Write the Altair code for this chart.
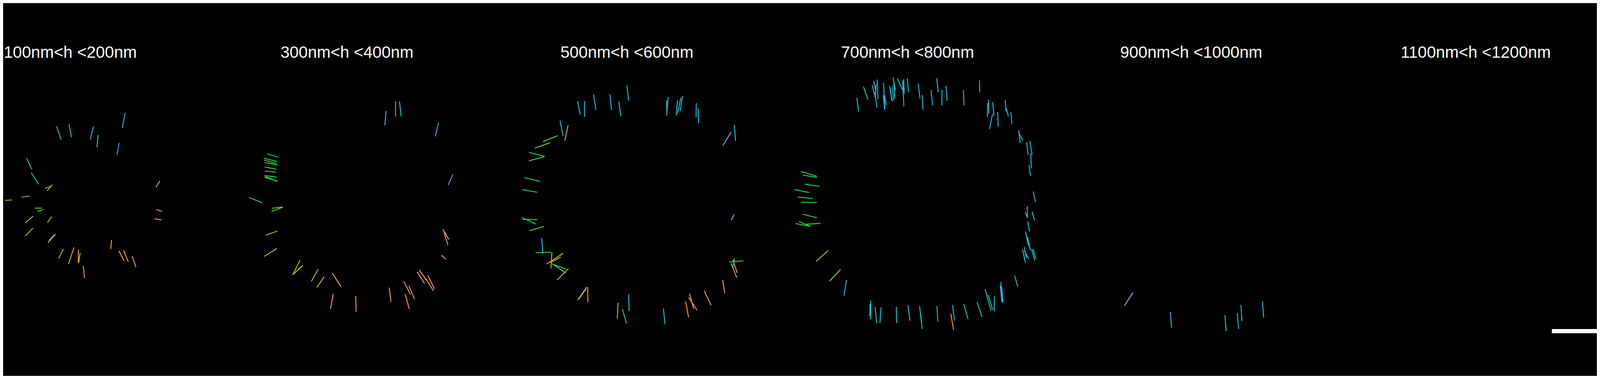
import altair as alt
import pandas as pd

# Panel titles and where each title starts (reference pixels)
TITLES = ["100nm<h <200nm", "300nm<h <400nm", "500nm<h <600nm",
          "700nm<h <800nm", "900nm<h <1000nm", "1100nm<h <1200nm"]
TITLE_X = [10, 938, 1877, 2818, 3754, 4695]

# Segments per panel: (colour class, x1, y1, x2, y2) in each panel's frame units
P1 = [
    ("tl", 326, 442, 352, 513), ("tl", 399, 430, 413, 501), ("bl", 542, 441, 523, 513),
    ("cy", 569, 488, 562, 555), ("bl", 727, 368, 710, 451), ("bl", 692, 531, 679, 597),
    ("tl", 151, 614, 181, 674), ("tl", 178, 693, 221, 756), ("gr", 258, 777, 295, 767),
    ("yg", 271, 791, 301, 758), ("lg", 24, 843, 67, 841), ("lg", 122, 826, 169, 820),
    ("lg", 199, 885, 240, 885), ("lg", 216, 903, 249, 893), ("yg", 143, 965, 189, 928),
    ("yg", 273, 963, 298, 931), ("yg", 144, 1036, 188, 993), ("yg", 276, 1072, 320, 1026),
    ("yg", 282, 1062, 312, 1030), ("ye", 338, 1158, 366, 1106), ("ye", 396, 1187, 428, 1098),
    ("or", 453, 1180, 454, 1110), ("or", 455, 1183, 464, 1128), ("or", 489, 1263, 482, 1198),
    ("or", 643, 1107, 647, 1057), ("sa", 690, 1117, 721, 1171), ("sa", 718, 1114, 745, 1176),
    ("sa", 768, 1146, 790, 1205), ("lb", 906, 772, 930, 738), ("pk", 908, 893, 943, 902),
    ("pk", 900, 943, 938, 949),
]
P2 = [
    ("bl", 858, 358, 850, 436), ("cy", 913, 307, 913, 388), ("cy", 936, 307, 946, 388),
    ("bl", 1164, 421, 1145, 497), ("bl", 1248, 702, 1220, 760),
    ("gr", 162, 591, 228, 609), ("gr", 143, 615, 220, 632), ("gr", 147, 625, 216, 643),
    ("gr", 150, 638, 224, 651), ("gr", 148, 662, 216, 674), ("gr", 150, 684, 214, 690),
    ("gr", 146, 708, 218, 717), ("gr", 146, 718, 222, 738), ("gr", 150, 712, 224, 741),
    ("gr", 57, 827, 133, 856), ("lg", 190, 886, 254, 879), ("lg", 188, 903, 254, 880),
    ("lg", 154, 1032, 223, 1009), ("yg", 145, 1147, 219, 1104), ("yg", 312, 1247, 355, 1167),
    ("yg", 313, 1245, 371, 1197), ("yg", 320, 1240, 365, 1200), ("ye", 421, 1282, 461, 1216),
    ("ye", 454, 1315, 496, 1256), ("sa", 543, 1237, 594, 1311), ("or", 533, 1431, 549, 1350),
    ("or", 680, 1361, 683, 1447), ("or", 876, 1316, 886, 1393), ("or", 969, 1350, 993, 1432),
    ("sa", 961, 1282, 1000, 1352), ("sa", 991, 1306, 1023, 1378), ("sa", 1039, 1230, 1082, 1293),
    ("sa", 1052, 1221, 1093, 1275), ("sa", 1090, 1267, 1134, 1333), ("sa", 1101, 1248, 1140, 1322),
    ("sa", 1180, 1140, 1207, 1161), ("sa", 1189, 1000, 1225, 1055), ("sa", 1196, 1016, 1219, 1085),
]
P3 = [
    ("cy", 495, 305, 511, 378), ("cy", 536, 305, 537, 390), ("cy", 589, 269, 603, 352),
    ("cy", 685, 269, 694, 353), ("cy", 736, 308, 749, 387), ("cy", 784, 220, 794, 303),
    ("cy", 1025, 283, 1016, 383), ("cy", 1016, 301, 1017, 362), ("cy", 1079, 301, 1072, 382),
    ("cy", 1099, 287, 1080, 370), ("cy", 1109, 276, 1095, 358), ("cy", 1189, 316, 1188, 392),
    ("cy", 1200, 346, 1203, 424), ("cy", 1411, 434, 1419, 520), ("lb", 1393, 473, 1345, 545),
    ("cy", 393, 410, 411, 494), ("or", 440, 436, 421, 519), ("lg", 380, 492, 294, 524),
    ("lg", 335, 531, 246, 559), ("gr", 211, 583, 302, 604), ("lg", 302, 606, 211, 629),
    ("gr", 185, 720, 275, 740), ("gr", 173, 785, 260, 799), ("gr", 171, 936, 251, 971),
    ("gr", 173, 946, 261, 948), ("lg", 215, 1007, 299, 985), ("cy", 286, 1046, 293, 1131),
    ("gr", 251, 1127, 342, 1124), ("or", 346, 1125, 340, 1212), ("yg", 315, 1188, 411, 1130),
    ("yg", 337, 1180, 398, 1150), ("tl", 345, 1185, 428, 1238), ("gr", 360, 1192, 427, 1215),
    ("yg", 377, 1274, 442, 1213), ("yg", 497, 1383, 549, 1313), ("yg", 503, 1378, 545, 1323),
    ("or", 555, 1314, 556, 1394), ("or", 732, 1397, 728, 1483), ("cy", 794, 1353, 797, 1441),
    ("tl", 757, 1432, 782, 1511), ("cy", 997, 1429, 1007, 1514), ("or", 1127, 1391, 1144, 1477),
    ("sa", 1150, 1349, 1174, 1432), ("sa", 1144, 1368, 1193, 1438), ("sa", 1236, 1334, 1276, 1412),
    ("or", 1343, 1274, 1356, 1346), ("sa", 1393, 1185, 1426, 1262), ("sa", 1403, 1164, 1428, 1236),
    ("bl", 1412, 1158, 1405, 1205), ("gr", 1380, 1178, 1465, 1171), ("lb", 1411, 918, 1393, 950),
]
P4 = [
    ("cy", 472, 286, 483, 361), ("tl", 511, 227, 537, 296), ("cy", 562, 219, 582, 290),
    ("cy", 571, 197, 584, 253), ("cy", 591, 188, 596, 295), ("cy", 585, 216, 582, 266),
    ("cy", 578, 258, 589, 340), ("cy", 628, 206, 636, 350), ("cy", 627, 272, 635, 352),
    ("cy", 634, 275, 643, 325), ("cy", 663, 221, 680, 307), ("cy", 668, 237, 676, 301),
    ("cy", 678, 226, 688, 299), ("cy", 684, 176, 698, 248), ("cy", 688, 210, 694, 290),
    ("tl", 708, 181, 740, 245), ("cy", 740, 193, 747, 333), ("cy", 746, 187, 749, 264),
    ("cy", 767, 181, 774, 257), ("cy", 831, 210, 841, 290), ("cy", 854, 272, 859, 351),
    ("cy", 906, 245, 915, 328), ("cy", 939, 181, 948, 257), ("cy", 970, 244, 969, 328),
    ("cy", 993, 222, 1000, 303), ("cy", 1095, 245, 1098, 328), ("cy", 1189, 192, 1190, 257),
    ("cy", 1241, 297, 1244, 374), ("cy", 1237, 315, 1235, 392), ("cy", 1266, 311, 1273, 384),
    ("bl", 1265, 375, 1247, 457), ("cy", 1295, 364, 1298, 443), ("cy", 1339, 299, 1344, 360),
    ("cy", 1342, 338, 1358, 387), ("cy", 1373, 366, 1378, 429), ("cy", 1418, 462, 1427, 531),
    ("tl", 1417, 474, 1442, 518), ("cy", 1464, 528, 1473, 595), ("cy", 1483, 521, 1496, 595),
    ("cy", 1488, 590, 1492, 670), ("cy", 1478, 651, 1487, 712), ("cy", 1503, 795, 1516, 852),
    ("cy", 1468, 876, 1469, 931), ("tl", 1456, 905, 1469, 938), ("cy", 1496, 905, 1510, 951),
    ("cy", 1471, 957, 1481, 1012), ("cy", 1458, 1012, 1470, 1067), ("cy", 1469, 1040, 1487, 1114),
    ("tl", 1466, 1064, 1484, 1101), ("cy", 1441, 1109, 1457, 1182), ("cy", 1450, 1096, 1463, 1155),
    ("tl", 1451, 1117, 1477, 1160), ("cy", 1493, 1108, 1513, 1169), ("cy", 1501, 1106, 1518, 1158),
    ("gr", 147, 687, 238, 712), ("gr", 157, 706, 240, 718), ("gr", 168, 756, 255, 767),
    ("gr", 108, 785, 194, 800), ("gr", 128, 825, 215, 833), ("gr", 145, 853, 239, 854),
    ("gr", 157, 918, 239, 937), ("gr", 133, 957, 203, 984), ("gr", 114, 969, 201, 983),
    ("lg", 178, 972, 259, 968), ("yg", 305, 1115, 235, 1173), ("yg", 377, 1217, 313, 1281),
    ("bl", 412, 1274, 397, 1359),
    ("cy", 553, 1387, 553, 1488), ("cy", 549, 1405, 548, 1470), ("cy", 579, 1422, 588, 1508),
    ("cy", 614, 1423, 607, 1508), ("cy", 703, 1421, 704, 1508), ("cy", 771, 1410, 783, 1495),
    ("cy", 839, 1416, 849, 1500), ("cy", 845, 1455, 854, 1540), ("cy", 940, 1415, 946, 1500),
    ("cy", 1031, 1410, 1043, 1495), ("or", 1022, 1459, 1037, 1545), ("tl", 1097, 1405, 1122, 1487),
    ("tl", 1174, 1393, 1204, 1475), ("tl", 1222, 1325, 1256, 1440), ("tl", 1240, 1355, 1266, 1437),
    ("cy", 1276, 1362, 1275, 1445), ("cy", 1313, 1285, 1325, 1397), ("cy", 1310, 1305, 1320, 1395),
    ("cy", 1318, 1310, 1326, 1390), ("tl", 1394, 1250, 1412, 1310),
]
P5 = [
    ("lb", 176, 1342, 150, 1414), ("cy", 287, 1447, 291, 1533), ("cy", 450, 1465, 454, 1552),
    ("cy", 487, 1453, 491, 1540), ("cy", 498, 1409, 501, 1497), ("cy", 562, 1390, 566, 1478),
]
P6 = []

# frame origin (reference px) and frame units per reference px
FRAMES = [(P1, 0, 1.742), (P2, 800, 1.742), (P3, 1650, 1.742),
          (P4, 2600, 1.742), (P5, 3600, 0.8904), (P6, 4540, 0.8904)]
SY = 1.615

COLOR_KEYS = ["cy", "tl", "bl", "lb", "gr", "lg", "yg", "ye", "or", "sa", "pk"]
COLOR_VALS = ["#1ec5dc", "#1ccab0", "#36b2ea", "#86aef2", "#26d64a", "#5ed22a",
              "#b0c61a", "#d2b80e", "#f6a61c", "#f5a064", "#f095d2"]

# scale bar (reference px)
BAR = {"x": [5202], "x2": [5359], "y": [954], "y2": [968]}

rows = []
for segs, off, sx in FRAMES:
    for c, a, b, cc, d in segs:
        rows.append({"x": off + a / sx, "y": b / SY, "x2": off + cc / sx, "y2": d / SY, "c": c})
seg_df = pd.DataFrame(rows)
title_df = pd.DataFrame({"t": TITLES, "x": TITLE_X, "y": [43] * 6})
bar_df = pd.DataFrame(BAR)

# the page has an 8px margin: reference pixel p sits at chart pixel p - 8
W, H = 5345, 955
xs = alt.Scale(domain=[8, 8 + W], nice=False, zero=False)
ys = alt.Scale(domain=[8 + H, 8], nice=False, zero=False)

segs = alt.Chart(seg_df).mark_rule(strokeWidth=3).encode(
    x=alt.X("x:Q", scale=xs, axis=None),
    y=alt.Y("y:Q", scale=ys, axis=None),
    x2="x2:Q",
    y2="y2:Q",
    color=alt.Color("c:N", scale=alt.Scale(domain=COLOR_KEYS, range=COLOR_VALS), legend=None),
)

titles = alt.Chart(title_df).mark_text(
    align="left", baseline="alphabetic", font="Liberation Sans", fontSize=55, color="white"
).encode(
    x=alt.X("x:Q", scale=xs, axis=None),
    y=alt.Y("y:Q", scale=ys, axis=None),
    text="t:N",
)

bar = alt.Chart(bar_df).mark_rect(color="white").encode(
    x=alt.X("x:Q", scale=xs, axis=None),
    x2="x2:Q",
    y=alt.Y("y:Q", scale=ys, axis=None),
    y2="y2:Q",
)

chart = alt.layer(segs, titles, bar).properties(
    width=W, height=H, padding=0,
    autosize=alt.AutoSizeParams(type="none"),
    background="black",
).configure_view(stroke=None, fill="black")

chart.save("out.html", embed_options={"renderer": "svg", "actions": False})
